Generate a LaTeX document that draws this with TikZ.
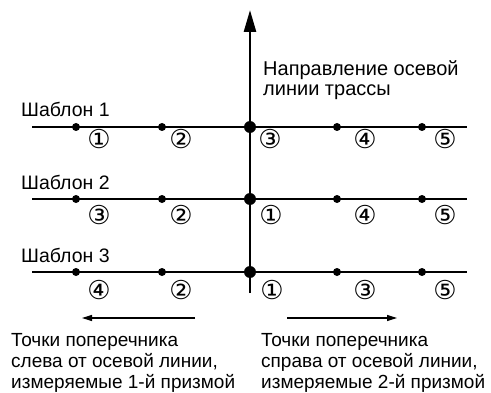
\documentclass[tikz,border=0pt]{standalone}
\usepackage{fontspec}
\setmainfont{Liberation Sans}
\newfontfamily\circfont{DejaVu Sans}
\usetikzlibrary{arrows.meta, positioning}

\begin{document}
\begin{tikzpicture}[x=1pt, y=1pt, font=\fontsize{19}{21}\selectfont,
  dot/.style={circle, fill, inner sep=0pt, minimum size=8pt},
  bigdot/.style={circle, fill, inner sep=0pt, minimum size=12pt},
  num/.style={font=\circfont\fontsize{26}{26}\selectfont, inner sep=0pt},
  title/.style={anchor=base west, inner sep=0pt, font=\fontsize{19.5}{21}\selectfont},
  note/.style={anchor=north west, align=left, inner sep=0pt}]
  \useasboundingbox (0,0) rectangle (491,392);

  % Axis
  \coordinate (axisbot) at (250,99);
  \coordinate (axistop) at (250,382);
  \draw [line width=2.6pt, -{Triangle[length=22pt, width=12pt]}] (axisbot) -- (axistop);
  \node [note, font=\fontsize{20}{20}\selectfont] (dir) at (263,332) {Направление осевой\\линии трассы};

  % Row lines
  \coordinate (l1) at (32,265);  \coordinate (r1) at (467,265);
  \coordinate (l2) at (32,193);  \coordinate (r2) at (467,193);
  \coordinate (l3) at (32,120);  \coordinate (r3) at (467,120);
  \draw [line width=1.8pt] (l1) -- (r1);
  \draw [line width=1.8pt] (l2) -- (r2);
  \draw [line width=1.8pt] (l3) -- (r3);

  % Template 1
  \node [title] (tpl1) at (21,276) {Шаблон 1};
  \node [dot] (a1) at (76,265) {};
  \node [dot] (b1) at (162,265) {};
  \node [bigdot] (c1) at (250,265) {};
  \node [dot] (d1) at (337,265) {};
  \node [dot] (e1) at (422,265) {};
  \node [num] (n1a) at (99,253) {①};
  \node [num] (n1b) at (181,253) {②};
  \node [num] (n1c) at (270,253) {③};
  \node [num] (n1d) at (365,253) {④};
  \node [num] (n1e) at (445,253) {⑤};

  % Template 2
  \node [title] (tpl2) at (21,203) {Шаблон 2};
  \node [dot] (a2) at (76,193) {};
  \node [dot] (b2) at (162,193) {};
  \node [bigdot] (c2) at (250,193) {};
  \node [dot] (d2) at (337,193) {};
  \node [dot] (e2) at (422,193) {};
  \node [num] (n2a) at (99,177) {③};
  \node [num] (n2b) at (181,177) {②};
  \node [num] (n2c) at (271,177) {①};
  \node [num] (n2d) at (365,177) {④};
  \node [num] (n2e) at (445,177) {⑤};

  % Template 3
  \node [title] (tpl3) at (21,130) {Шаблон 3};
  \node [dot] (a3) at (76,120) {};
  \node [dot] (b3) at (162,120) {};
  \node [bigdot] (c3) at (250,120) {};
  \node [dot] (d3) at (337,120) {};
  \node [dot] (e3) at (422,120) {};
  \node [num] (n3a) at (99,102) {④};
  \node [num] (n3b) at (181,102) {②};
  \node [num] (n3c) at (272,102) {①};
  \node [num] (n3d) at (365,102) {③};
  \node [num] (n3e) at (445,102) {⑤};

  % Side arrows and notes
  \coordinate (lefta) at (195,74);  \coordinate (leftb) at (82,74);
  \coordinate (righta) at (287,74); \coordinate (rightb) at (397,74);
  \draw [line width=1.2pt, -{Triangle[length=10pt, width=6pt]}] (lefta) -- (leftb);
  \draw [line width=1.2pt, -{Triangle[length=10pt, width=6pt]}] (righta) -- (rightb);
  \node [note] (leftnote) at (11,59) {Точки поперечника\\слева от осевой линии,\\измеряемые 1-й призмой};
  \node [note] (rightnote) at (261,59) {Точки поперечника\\справа от осевой линии,\\измеряемые 2-й призмой};
\end{tikzpicture}
\end{document}
